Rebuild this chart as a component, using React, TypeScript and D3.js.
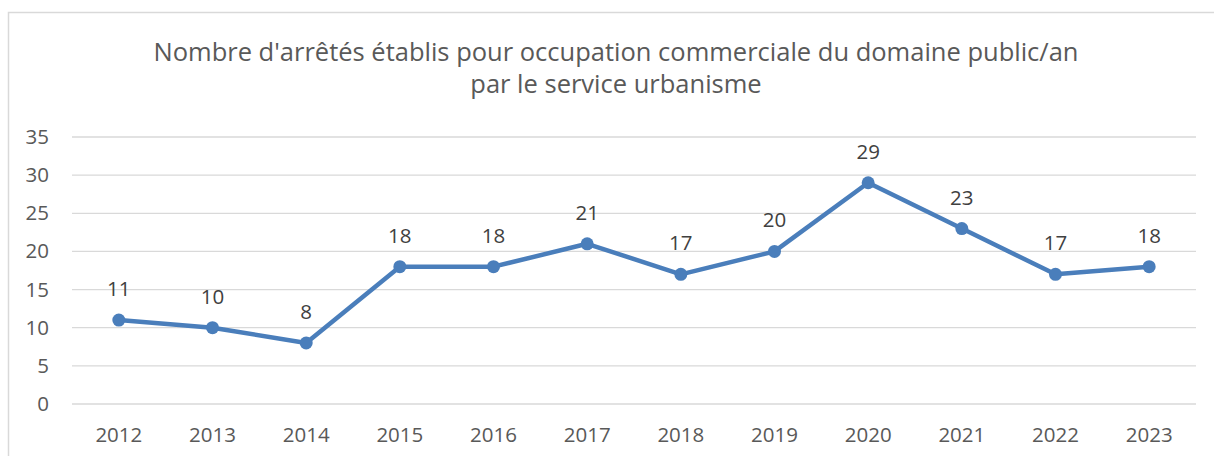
import React from "react";
import * as d3 from "d3";

const years = ["2012","2013","2014","2015","2016","2017","2018","2019","2020","2021","2022","2023"];
const values = [11, 10, 8, 18, 18, 21, 17, 20, 29, 23, 17, 18];
const yTicks = [0, 5, 10, 15, 20, 25, 30, 35];
const titleLines = [
  "Nombre d'arrêtés établis pour occupation commerciale du domaine public/an",
  "par le service urbanisme",
];

export default function App() {
  const W = 1214, H = 456;
  const x = d3.scaleBand<string>().domain(years).range([72, 1196]);
  const y = d3.scaleLinear().domain([0, 35]).range([404, 137]);
  const line = d3.line<number>()
    .x((_, i) => (x(years[i]) as number) + x.bandwidth() / 2)
    .y((d) => y(d));
  const font = "'Open Sans', Calibri, sans-serif";
  return (
    <svg width={W} height={H} style={{ position: "absolute", left: 0, top: 0 }}>
      <rect x={0} y={0} width={W} height={H} fill="#fff" />
      <rect x={8.5} y={12.5} width={W} height={H} fill="#fff" stroke="#d9d9d9" strokeWidth={1.5} />
      {titleLines.map((t, i) => (
        <text key={i} x={616} y={61 + i * 32} textAnchor="middle" fontFamily={font} fontSize={25.5} fill="#595959">{t}</text>
      ))}
      {yTicks.map((t) => (
        <g key={t}>
          <line x1={72} x2={1196} y1={y(t)} y2={y(t)} stroke="#d9d9d9" strokeWidth={1.3} />
          <text x={49} y={y(t) + 7} textAnchor="end" fontFamily={font} fontSize={20.5} fill="#595959">{t}</text>
        </g>
      ))}
      {years.map((yr) => (
        <text key={yr} x={(x(yr) as number) + x.bandwidth() / 2} y={442} textAnchor="middle" fontFamily={font} fontSize={20.5} fill="#595959">{yr}</text>
      ))}
      <path d={line(values) || ""} fill="none" stroke="#4a7ebb" strokeWidth={4.5} strokeLinejoin="round" />
      {values.map((v, i) => {
        const cx = (x(years[i]) as number) + x.bandwidth() / 2;
        return (
          <g key={i}>
            <circle cx={cx} cy={y(v)} r={6.5} fill="#4a7ebb" />
            <text x={cx} y={y(v) - 24} textAnchor="middle" fontFamily={font} fontSize={20.5} fill="#404040">{v}</text>
          </g>
        );
      })}
    </svg>
  );
}
